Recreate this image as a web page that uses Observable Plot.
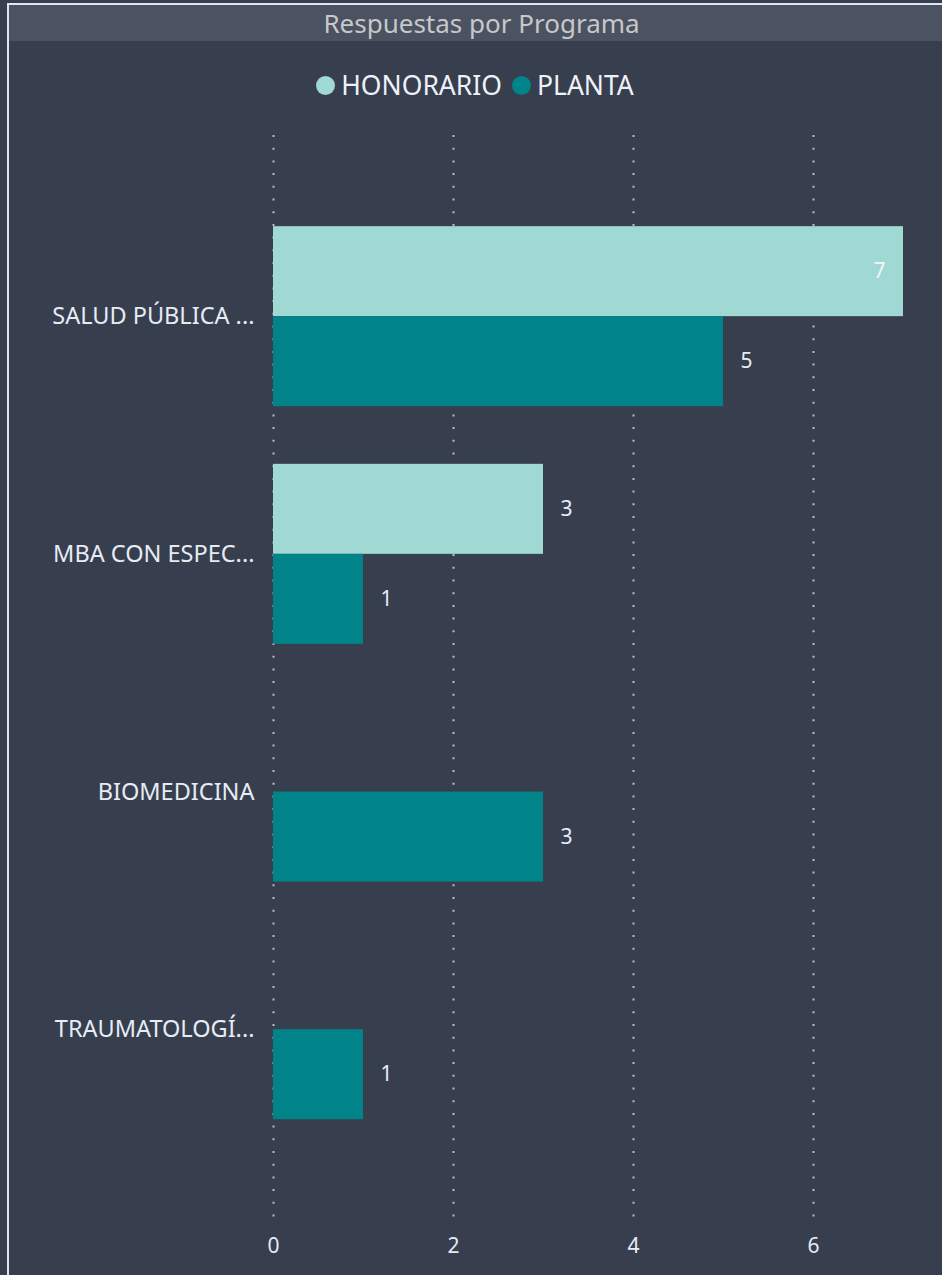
<!DOCTYPE html>
<html>
<head>
<meta charset="utf-8">
<script src="https://cdn.jsdelivr.net/npm/d3@7"></script>
<script src="https://cdn.jsdelivr.net/npm/@observablehq/plot@0.6"></script>
<style>
  html, body { margin: 0; padding: 0; background: #373e4e; width: 942px; height: 1275px; overflow: hidden; }
  body { position: relative; font-family: "Noto Sans", sans-serif; }
  #frame { position: absolute; left: 7px; top: 3px; right: 0; bottom: 0; border-left: 2px solid #dfe6ef; border-top: 2px solid #dfe6ef; }
  #titlebar { position: absolute; left: 9px; top: 5px; right: 0; height: 36px; background: #4b5262; color: #c8c8c8; font-size: 26px; line-height: 36px; text-align: center; padding-left: 12px; }
  #legend { position: absolute; left: 0; right: 0; top: 68px; height: 34px; display: flex; justify-content: center; align-items: center; color: #eef2f8; font-size: 26.5px; padding-left: 8px; }
  .item { display: flex; align-items: center; margin: 0 5px; }
  .dot { width: 19px; height: 19px; border-radius: 50%; margin-right: 6px; }
  #chart { position: absolute; left: 0; top: 110px; }
</style>
</head>
<body>
<div id="frame"></div>
<div id="titlebar">Respuestas por Programa</div>
<div id="legend"></div>
<div id="chart"></div>
<script>
const title = "Respuestas por Programa";
const programs = ["SALUD PÚBLICA ...", "MBA CON ESPEC...", "BIOMEDICINA", "TRAUMATOLOGÍ..."];
const series = ["HONORARIO", "PLANTA"];
const honorario = [7, 3, null, null];
const planta = [5, 1, 3, 1];
const xTicks = [0, 2, 4, 6];
const colors = ["#a0d9d3", "#008389"];

// legend
const legend = document.getElementById("legend");
series.forEach((s, i) => {
  const it = document.createElement("div");
  it.className = "item";
  it.innerHTML = `<span class="dot" style="background:${colors[i]}"></span><span>${s}</span>`;
  legend.appendChild(it);
});

const W = 942, H = 1165, mt = 25, mb = 53, ml = 273, mr = 39;
const pi = 0.2426, po = 0.408;
const step = (H - mt - mb) / (programs.length - pi + 2 * po);
const bw = step * (1 - pi);

const dataH = programs.map((p, i) => ({program: p, value: honorario[i]})).filter(d => d.value != null);
const dataP = programs.map((p, i) => ({program: p, value: planta[i]})).filter(d => d.value != null);
const xMax = 7;

const plot = Plot.plot({
  width: W, height: H,
  marginTop: mt, marginBottom: mb, marginLeft: ml, marginRight: mr,
  style: {background: "transparent", color: "#e6ecf5", fontFamily: "Noto Sans, sans-serif"},
  x: {domain: [0, xMax], label: null},
  y: {domain: programs, paddingInner: pi, paddingOuter: po, align: 0.47, round: false, label: null},
  marks: [
    Plot.ruleX(xTicks, {stroke: "#b8bdc6", strokeWidth: 2, strokeDasharray: "2,10.7"}),
    Plot.barX(dataH, {x: "value", y: "program", fill: colors[0], insetBottom: bw / 2}),
    Plot.barX(dataP, {x: "value", y: "program", fill: colors[1], insetTop: bw / 2}),
    Plot.text(dataH.filter(d => d.value < xMax - 0.5), {x: "value", y: "program", text: d => String(d.value), dy: -bw / 4, dx: 17, textAnchor: "start", fill: "#e6ecf5", fontSize: 21}),
    Plot.text(dataH.filter(d => d.value >= xMax - 0.5), {x: "value", y: "program", text: d => String(d.value), dy: -bw / 4, dx: -18, textAnchor: "end", fill: "#eef7f8", fontSize: 21}),
    Plot.text(dataP, {x: "value", y: "program", text: d => String(d.value), dy: bw / 4, dx: 17, textAnchor: "start", fill: "#e6ecf5", fontSize: 21}),
    Plot.axisY({tickSize: 0, tickPadding: 19, fontSize: 23.5, label: null, fill: "#e6ecf5"}),
    Plot.axisX({ticks: xTicks, tickFormat: "d", tickSize: 0, tickPadding: 16, fontSize: 21, label: null, fill: "#e6ecf5"})
  ]
});
document.getElementById("chart").appendChild(plot);
</script>
</body>
</html>
